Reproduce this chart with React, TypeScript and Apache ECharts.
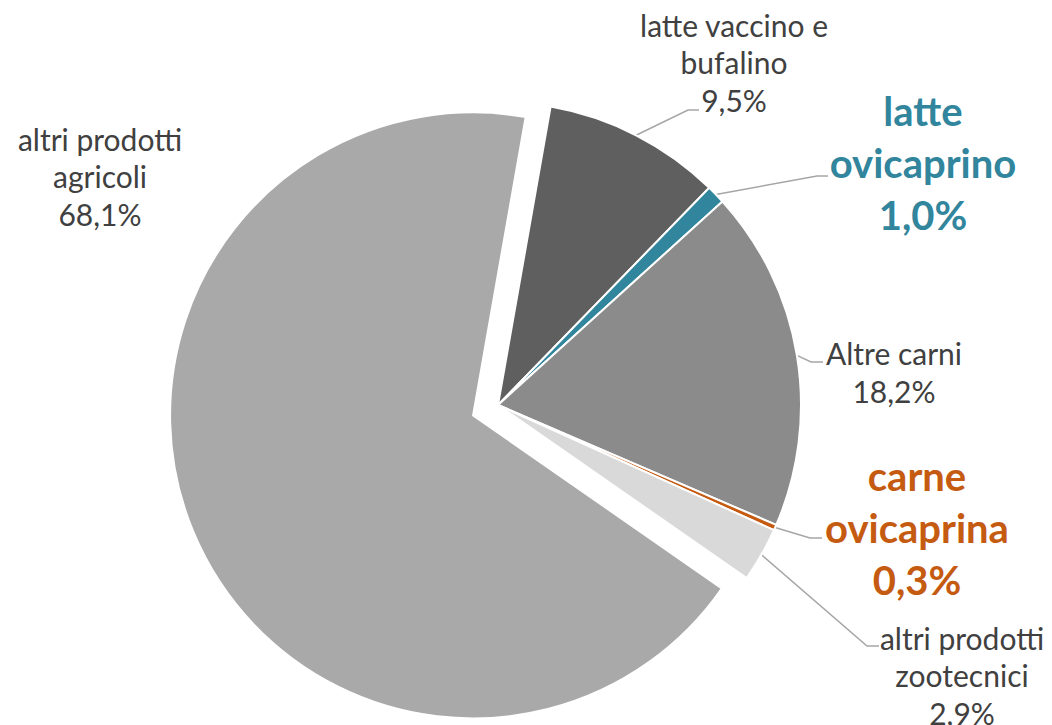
import React, { useEffect, useRef } from "react";
import * as echarts from "echarts";

const categories = [
  "latte vaccino e\nbufalino",
  "latte\novicaprino",
  "Altre carni",
  "carne\novicaprina",
  "altri prodotti\nzootecnici",
  "altri prodotti\nagricoli",
];
const shares = [9.5, 1.0, 18.2, 0.3, 2.9, 68.1];
const sliceColors = ["#5f5f5f", "#31859c", "#8b8b8b", "#c55a11", "#d9d9d9", "#a9a9a9"];
const highlighted = [false, true, false, true, false, false];
const exploded = [false, false, false, false, false, true];

// label layout (block centre, elbow and end of leader line)
const labelCenters: [number, number][] = [
  [734, 62],
  [923, 163],
  [894, 372],
  [917, 528],
  [962, 675],
  [100, 176],
];
const lineElbows: ([number, number][] | null)[] = [
  [[688, 110], [699, 110]],
  [[817, 176], [828, 176]],
  [[811, 362], [823, 362]],
  [[810, 538], [822, 538]],
  [[867, 646], [879, 646]],
  null,
];

const FONT = "Lato, 'Noto Sans', sans-serif";
const TEXT_COLOR = "#404040";
const NORMAL = { fontSize: 30, lineHeight: 37.5 };
const BOLD = { fontSize: 40, lineHeight: 52 };

const fmt = (v: number) => `${v.toFixed(1).replace(".", ",")}%`;

export default function App() {
  const ref = useRef<HTMLDivElement>(null);
  useEffect(() => {
    if (!ref.current) return;
    const chart = echarts.init(ref.current, undefined, { renderer: "svg" });
    const data = categories.map((name, i) => ({
      name,
      value: shares[i],
      selected: exploded[i],
      itemStyle: { color: sliceColors[i], borderColor: "#ffffff", borderWidth: 2 },
      select: { itemStyle: { color: sliceColors[i], borderColor: "#ffffff", borderWidth: 2 } },
      label: exploded[i]
        ? { show: false }
        : highlighted[i]
        ? { color: sliceColors[i], fontWeight: "bold", ...BOLD }
        : { color: TEXT_COLOR, fontWeight: "normal", ...NORMAL },
      labelLine: { show: lineElbows[i] !== null },
    }));
    const explodedIdx = exploded.indexOf(true);
    chart.setOption({
      animation: false,
      backgroundColor: "#ffffff",
      title: {
        text: `${categories[explodedIdx]}\n${fmt(shares[explodedIdx])}`,
        left: labelCenters[explodedIdx][0],
        top: labelCenters[explodedIdx][1] - (3 * NORMAL.lineHeight) / 2,
        textAlign: "center",
        padding: 0,
        textStyle: {
          fontFamily: FONT,
          fontWeight: "normal",
          color: TEXT_COLOR,
          ...NORMAL,
        },
      },
      series: [
        {
          type: "pie",
          center: [498, 405],
          radius: 303,
          startAngle: 80,
          clockwise: true,
          selectedMode: "multiple",
          selectedOffset: 27,
          avoidLabelOverlap: false,
          emphasis: { disabled: true },
          data,
          label: {
            show: true,
            position: "outside",
            fontFamily: FONT,
            align: "center",
            formatter: (p: any) => `${p.name}\n${fmt(Number(p.value))}`,
          },
          labelLine: {
            show: true,
            lineStyle: { color: "#a6a6a6", width: 1.5 },
          },
          labelLayout: (params: any) => {
            const i = params.dataIndex;
            const c = labelCenters[i];
            const res: any = { x: c[0], y: c[1], align: "center", verticalAlign: "middle" };
            const el = lineElbows[i];
            if (el && params.labelLinePoints) {
              res.labelLinePoints = [params.labelLinePoints[0], el[0], el[1]];
            }
            return res;
          },
        },
      ],
    });
    return () => chart.dispose();
  }, []);
  return (
    <div
      ref={ref}
      style={{ position: "fixed", left: 0, top: 0, width: 1052, height: 725, background: "#fff" }}
    />
  );
}
